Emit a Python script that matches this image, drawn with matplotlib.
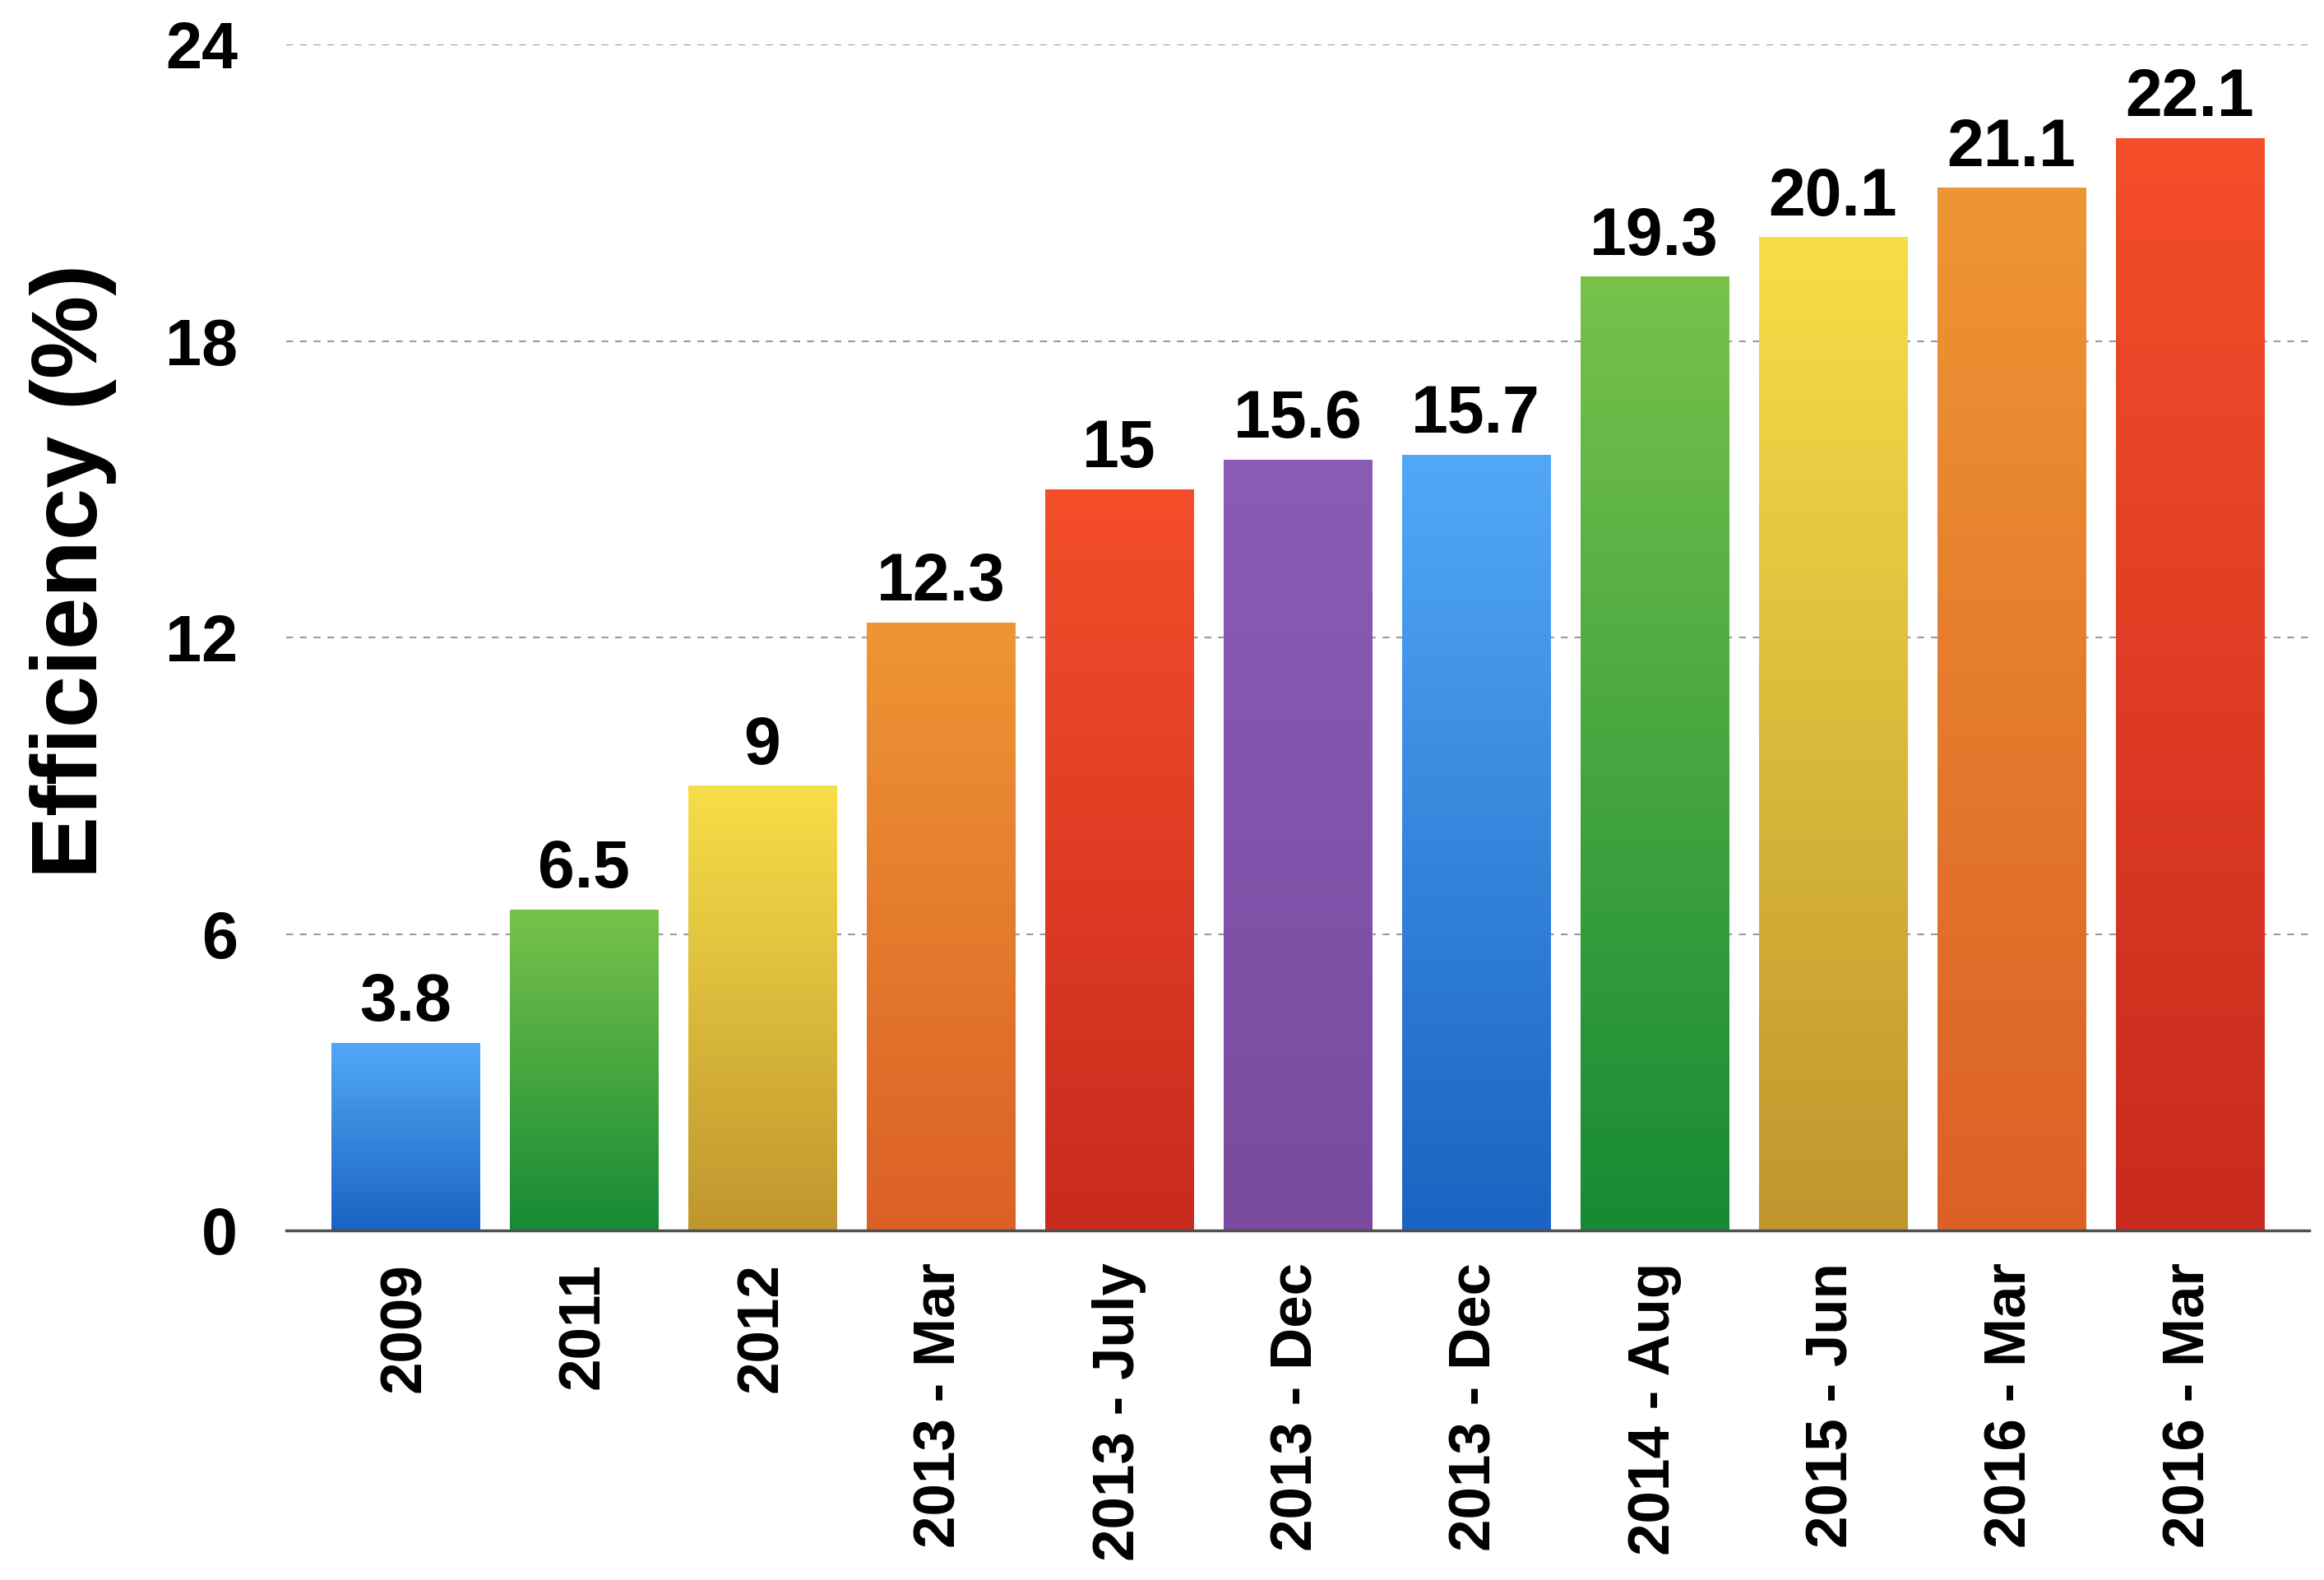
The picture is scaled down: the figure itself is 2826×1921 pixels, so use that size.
import matplotlib
matplotlib.use("Agg")
import matplotlib.pyplot as plt
import numpy as np
from matplotlib.colors import LinearSegmentedColormap

plt.rcParams["font.family"] = ["Liberation Sans", "DejaVu Sans"]
plt.rcParams["font.weight"] = "bold"

labels = ["2009", "2011", "2012", "2013 - Mar", "2013 - July", "2013 - Dec",
          "2013 - Dec", "2014 - Aug", "2015 - Jun", "2016 - Mar", "2016 - Mar"]
values = [3.8, 6.5, 9, 12.3, 15, 15.6, 15.7, 19.3, 20.1, 21.1, 22.1]
value_text = ["3.8", "6.5", "9", "12.3", "15", "15.6", "15.7", "19.3", "20.1", "21.1", "22.1"]

# top colour, bottom colour of each bar gradient
top_colors = ["#52A8F7", "#78C24C", "#F7DE48", "#EE9634", "#F44E2A", "#8A5CB6",
              "#52A8F7", "#78C24C", "#F7DE48", "#EE9634", "#F44E2A"]
bottom_colors = ["#1A63C2", "#168A34", "#BF962E", "#DC6026", "#C92A1E", "#7A4A9E",
                 "#1A63C2", "#168A34", "#BF962E", "#DC6026", "#C92A1E"]

fig = plt.figure(figsize=(28.26, 19.21), dpi=100)
ax = fig.add_axes([0.123, 0.2212, 0.8706, 0.7507])

x = np.arange(len(values))
bars = ax.bar(x, values, width=0.83, color="none", edgecolor="none", zorder=2)

grad = np.linspace(0, 1, 256).reshape(-1, 1)
for bar, c_top, c_bot in zip(bars, top_colors, bottom_colors):
    cmap = LinearSegmentedColormap.from_list("g", [c_bot, c_top])
    x0, y0 = bar.get_x(), bar.get_y()
    w, h = bar.get_width(), bar.get_height()
    im = ax.imshow(grad, cmap=cmap, aspect="auto", origin="lower",
                   extent=(x0, x0 + w, y0, y0 + h), zorder=2)
    im.set_clip_path(bar)

for xi, v, t in zip(x, values, value_text):
    ax.annotate(t, (xi, v), xytext=(0, 7), textcoords="offset points",
                ha="center", va="bottom", fontsize=58, fontweight="bold")

ax.set_xlim(-0.67, len(values) - 0.33)
ax.set_ylim(0, 24)
ax.set_yticks([0, 6, 12, 18, 24])
ax.set_xticks(x)
ax.set_xticklabels(labels, rotation=90, fontsize=51, fontweight="bold")
ax.tick_params(axis="x", length=0, pad=28)
ax.tick_params(axis="y", length=0, pad=42, labelsize=57)
for lbl in ax.get_yticklabels():
    lbl.set_fontweight("bold")

ax.yaxis.grid(True, linestyle=(0, (4, 4)), color="#9a9a9a", linewidth=1.5, zorder=0)
ax.set_axisbelow(True)
for s in ["top", "right", "left"]:
    ax.spines[s].set_visible(False)
ax.spines["bottom"].set_color("#505050")
ax.spines["bottom"].set_linewidth(2.5)
ax.spines["bottom"].set_zorder(3)

ax.set_ylabel("Efficiency (%)", fontsize=82, fontweight="bold")
ax.yaxis.set_label_coords(-0.0835, 0.556)

fig.savefig("out.png", dpi=100, facecolor="white")
plt.close(fig)
